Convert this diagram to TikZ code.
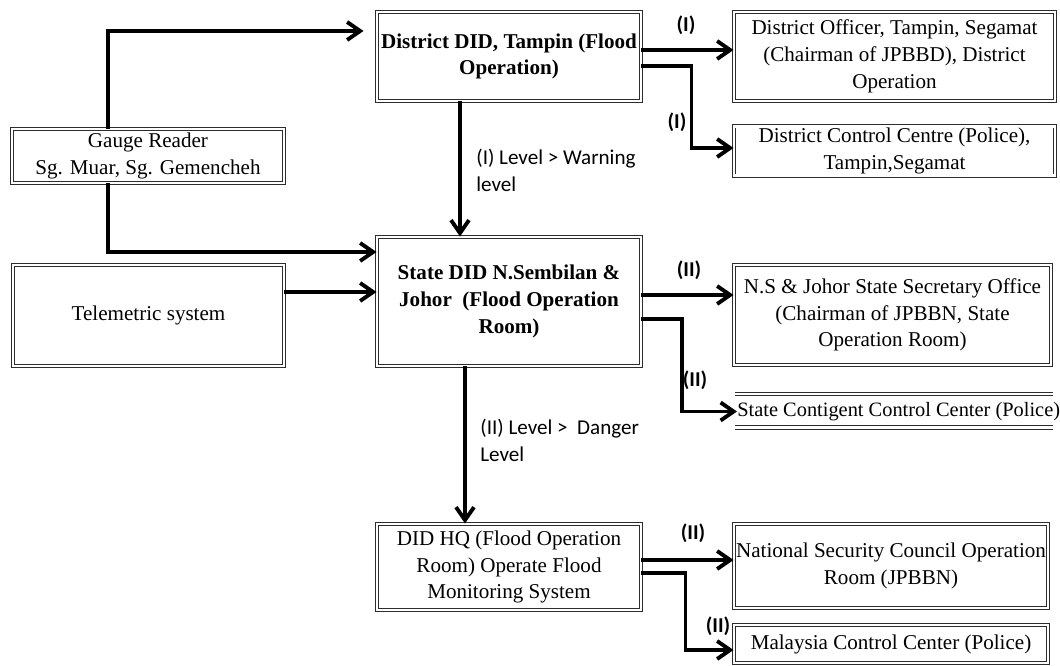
\documentclass[tikz,border=0pt]{standalone}
\usepackage{fontspec}
\setmainfont{Liberation Serif}
\setsansfont{Carlito}
\usepackage{tikz}
\usetikzlibrary{arrows.meta}
\usepackage{xcolor}
\definecolor{boxgrey}{RGB}{45,45,45}

\begin{document}
\begin{tikzpicture}[
    box/.style={draw=boxgrey, double, double distance=1.4pt, line width=0.55pt,
                align=center, inner sep=1pt, font=\fontsize{12}{15.2}\selectfont},
    rule/.style={boxgrey, double, double distance=1.4pt, line width=0.55pt},
    arr/.style={-{Straight Barb[length=2.6mm, width=3.6mm]}, line width=2.2pt},
    lvl/.style={font=\fontsize{12}{15.4}\selectfont\sffamily, align=left, inner sep=0pt},
    tag/.style={font=\fontsize{12}{14}\selectfont\sffamily\bfseries, inner sep=0pt}]

    \useasboundingbox (0,0) rectangle (21.2,-13.32);

    % sources
    \node[box, minimum width=5.44cm, minimum height=1.08cm] (gauge) at (2.96,-3.12)
        {Gauge Reader\\Sg. Muar, Sg. Gemencheh};
    \node[box, minimum width=5.42cm, minimum height=2.02cm] (tele) at (2.97,-6.31)
        {Telemetric system};

    % operation rooms
    \node[box, minimum width=5.28cm, minimum height=1.78cm, font=\fontsize{12}{15.2}\selectfont\bfseries] (dist) at (10.18,-1.13)
        {District DID, Tampin (Flood\\Operation)};
    \node[box, minimum width=5.28cm, minimum height=2.58cm, font=\fontsize{12}{15.6}\selectfont\bfseries] (state) at (10.18,-6.03)
        {State DID N.Sembilan \&\\Johor\ \ (Flood Operation\\Room)};
    \node[box, minimum width=5.28cm, minimum height=1.72cm] (hq) at (10.18,-11.34)
        {DID HQ (Flood Operation\\Room) Operate Flood\\Monitoring System};

    % receivers
    \node[box, minimum width=6.42cm, minimum height=1.78cm] (officer) at (17.89,-1.13)
        {District Officer, Tampin, Segamat\\(Chairman of JPBBD), District\\Operation};
    \node[box, minimum width=6.42cm, minimum height=0.88cm] (dcc) at (17.89,-3.02)
        {District Control Centre (Police),\\Tampin,Segamat};
    \node[box, minimum width=6.34cm, minimum height=2.0cm] (ns) at (17.85,-6.30)
        {N.S \& Johor State Secretary Office\\(Chairman of JPBBN, State\\Operation Room)};
    \node[anchor=west, inner sep=0pt, font=\fontsize{11.6}{14.8}\selectfont] (contig) at (14.74,-8.23)
        {State Contigent Control Center (Police)};
    \draw[rule] ([xshift=-0.04cm,yshift=0.35cm]contig.west) -- ++(6.36,0);
    \draw[rule] ([xshift=-0.04cm,yshift=-0.32cm]contig.west) -- ++(6.36,0);
    \node[box, minimum width=6.28cm, minimum height=1.68cm] (natl) at (17.82,-11.32)
        {National Security Council Operation\\Room (JPBBN)};
    \node[box, minimum width=6.28cm, minimum height=0.76cm] (malaysia) at (17.82,-12.88)
        {Malaysia Control Center (Police)};

    \coordinate (gup) at ([xshift=-0.8cm]gauge.north);
    \coordinate (gdown) at ([xshift=-0.8cm]gauge.south);
    \coordinate (telin) at ([yshift=0.19cm]state.west);
    \coordinate (dwarn) at ([xshift=-0.98cm]dist.south);
    \coordinate (sdanger) at ([xshift=-0.88cm]state.south);

    \draw[arr] (gup) |- ([xshift=-0.26cm,yshift=0.51cm]dist.west);
    \draw[arr] (gdown) |- ([yshift=0.99cm]state.west);
    \draw[arr] (telin -| tele.east) -- (telin);
    \draw[arr] (dwarn) -- (dwarn |- state.north);
    \draw[arr] (sdanger) -- (sdanger |- hq.north);

    \coordinate (d1) at ([yshift=0.13cm]dist.east);
    \coordinate (d2) at ([yshift=-0.19cm]dist.east);
    \draw[arr] (d1) -- (d1 -| officer.west);
    \draw[arr] (d2) -| ([xshift=-0.84cm,yshift=0.06cm]dcc.west) -- ([yshift=0.06cm]dcc.west);

    \coordinate (s1) at ([yshift=0.13cm]state.east);
    \coordinate (s2) at ([yshift=-0.35cm]state.east);
    \draw[arr] (s1) -- (s1 -| ns.west);
    \draw[arr] (s2) -| ([xshift=-1.1cm]contig.west) -- (contig.west);

    \coordinate (h1) at ([yshift=0.14cm]hq.east);
    \coordinate (h2) at ([yshift=-0.12cm]hq.east);
    \coordinate (m1) at ([yshift=-0.12cm]malaysia.west);
    \draw[arr] (h1) -- (h1 -| natl.west);
    \draw[arr] (h2) -| ([xshift=-0.96cm]m1) -- (m1);

    \node[lvl, anchor=north west] (warn) at (9.52,-2.98) {(I) Level > Warning\\level};
    \node[lvl, anchor=north west] (danger) at (9.6,-8.38) {(II) Level >\ \ Danger\\Level};

    \node[tag] (t1) at (13.72,-0.5) {(I)};
    \node[tag] (t2) at (13.54,-2.44) {(I)};
    \node[tag] (t3) at (13.78,-5.4) {(II)};
    \node[tag] (t4) at (13.9,-7.6) {(II)};
    \node[tag] (t5) at (13.86,-10.66) {(II)};
    \node[tag] (t6) at (14.36,-12.52) {(II)};
\end{tikzpicture}
\end{document}
